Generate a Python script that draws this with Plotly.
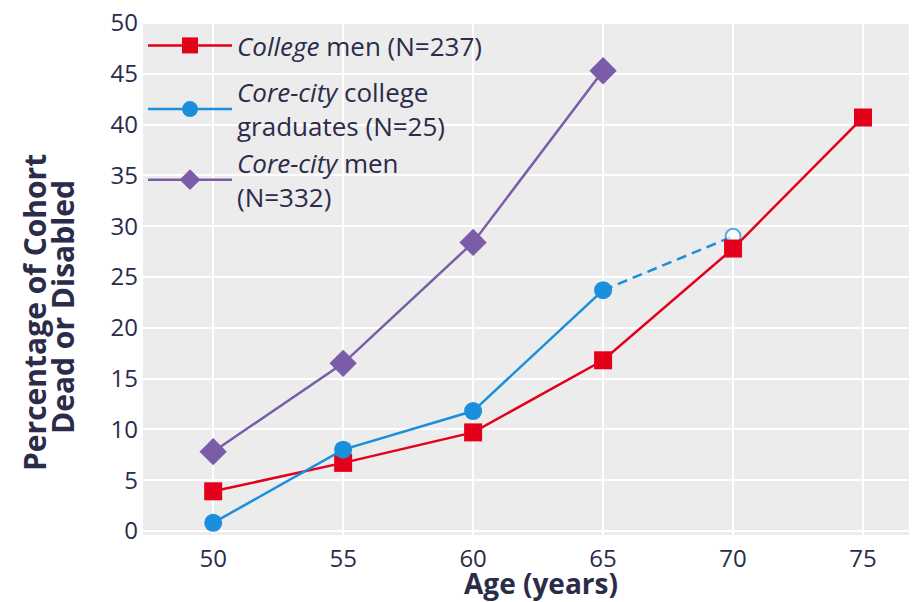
import plotly.graph_objects as go

ages = [50, 55, 60, 65, 70, 75]
college_men = [3.9, 6.7, 9.7, 16.8, 27.8, 40.7]
core_grad_ages = [50, 55, 60, 65]
core_grad = [0.8, 8.0, 11.8, 23.7]
core_grad_proj_ages = [65, 70]
core_grad_proj = [23.7, 29.0]
core_men_ages = [50, 55, 60, 65]
core_men = [7.8, 16.5, 28.4, 45.3]
y_ticks = list(range(0, 51, 5))

RED = "#e3001b"
BLUE = "#1a8fdb"
PURPLE = "#7a5ca8"
TXT = "#2b2b4a"
FONT = "Open Sans"

# page body has an 8px margin; figure coordinates = screen coordinates - 8
OFF = 8
W, H = 917 - OFF, 602
L, T = 143 - OFF, 22 - OFF
R = W - (915 - OFF)
B = H - (535 - OFF)
PW, PH = W - L - R, H - T - B

def px_x(px):
    return (px - OFF - L) / PW

def px_y(py):
    return (H - B - (py - OFF)) / PH

fig = go.Figure()
fig.add_trace(go.Scatter(
    x=core_grad_proj_ages, y=core_grad_proj, mode="lines+markers",
    line=dict(color=BLUE, width=2.5, dash="10px,6px"),
    marker=dict(symbol="circle", size=[0, 15], color="white",
                line=dict(color=BLUE, width=2)),
    showlegend=False, hoverinfo="skip"))
fig.add_trace(go.Scatter(
    x=ages, y=college_men, mode="lines+markers",
    name="<i>College</i> men (N=237)", legendgroup="a",
    line=dict(color=RED, width=2.5),
    marker=dict(symbol="square", size=18, color=RED)))
fig.add_trace(go.Scatter(
    x=core_grad_ages, y=core_grad, mode="lines+markers",
    name="<i>Core-city</i> college<br>graduates (N=25)", legendgroup="b",
    line=dict(color=BLUE, width=2.5),
    marker=dict(symbol="circle", size=18, color=BLUE)))
fig.add_trace(go.Scatter(
    x=core_men_ages, y=core_men, mode="lines+markers",
    name="<i>Core-city</i> men<br>(N=332)", legendgroup="b",
    line=dict(color=PURPLE, width=2.5),
    marker=dict(symbol="diamond", size=21, color=PURPLE)))

annotations = [
    dict(text="<b>Percentage of Cohort</b>", textangle=-90, xref="paper", yref="paper",
         x=px_x(34), y=px_y(313), xanchor="center", yanchor="middle", showarrow=False,
         font=dict(size=30, color=TXT, family=FONT)),
    dict(text="<b>Dead or Disabled</b>", textangle=-90, xref="paper", yref="paper",
         x=px_x(62), y=px_y(307), xanchor="center", yanchor="middle", showarrow=False,
         font=dict(size=30, color=TXT, family=FONT)),
    dict(text="<b>Age (years)</b>", xref="paper", yref="paper",
         x=px_x(541), y=px_y(583), xanchor="center", yanchor="middle", showarrow=False,
         font=dict(size=28, color=TXT, family=FONT)),
]

fig.update_layout(
    width=W, height=H,
    margin=dict(l=L, r=R, t=T, b=B),
    paper_bgcolor="white", plot_bgcolor="#ececec",
    font=dict(family=FONT, color=TXT, size=24),
    legend=dict(x=0.0, y=1.0, xanchor="left", yanchor="top",
                bgcolor="rgba(0,0,0,0)", font=dict(size=26, color=TXT),
                itemwidth=84, tracegroupgap=10, groupclick="toggleitem"),
    showlegend=True,
    annotations=annotations,
)
fig.update_xaxes(range=[47.3, 77.0], tickvals=ages, ticks="",
                 showgrid=True, gridcolor="white", gridwidth=2,
                 zeroline=False, showline=False, automargin=False,
                 ticklabelstandoff=7, ticklabeloverflow="allow",
                 tickfont=dict(size=24, color=TXT))
fig.update_yaxes(range=[-0.4, 50.1], tickvals=y_ticks, ticks="",
                 showgrid=True, gridcolor="white", gridwidth=2,
                 zeroline=False, showline=False, automargin=False,
                 ticklabelstandoff=4, ticklabeloverflow="allow",
                 tickfont=dict(size=24, color=TXT))

fig.write_html("out.html")
